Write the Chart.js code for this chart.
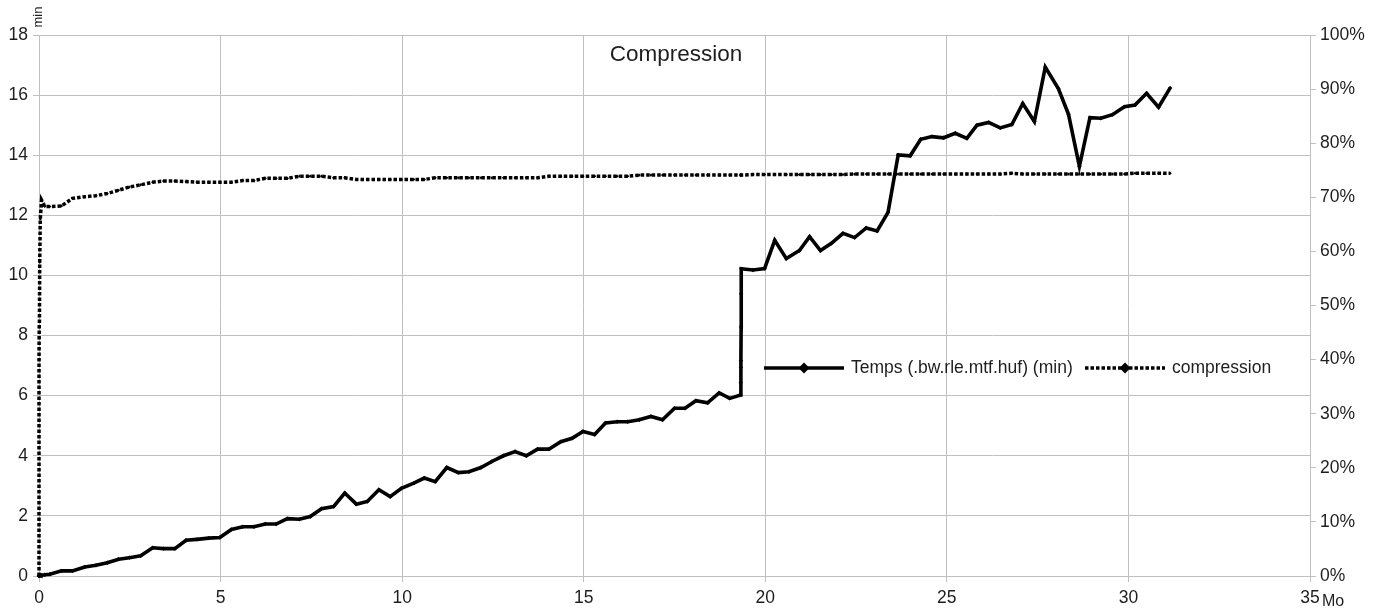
<!DOCTYPE html>
<html lang="fr">
<head>
<meta charset="utf-8">
<title>Compression</title>
<script src="https://cdn.jsdelivr.net/npm/chart.js@4/dist/chart.umd.min.js"></script>
<style>
  html, body { margin: 0; padding: 0; background: #fff; }
  canvas { display: block; }
</style>
</head>
<body>
<canvas id="graphe" width="1383" height="612"></canvas>
<script>
// Taille des fichiers compressés (Mo)
const tailleMo = [
  0, 0.0005, 0.001, 0.002, 0.004, 0.007, 0.012, 0.02, 0.035, 0.05, 0.07, 0.16,
  0.30, 0.62, 0.92, 1.26, 1.57, 1.88, 2.19, 2.49, 2.80, 3.13, 3.43, 3.74,
  4.05, 4.35, 4.67, 4.98, 5.30, 5.61, 5.92, 6.23, 6.53, 6.84, 7.17, 7.47,
  7.78, 8.11, 8.42, 8.74, 9.04, 9.36, 9.67, 9.98, 10.32, 10.61, 10.91, 11.23,
  11.55, 11.84, 12.17, 12.47, 12.79, 13.11, 13.42, 13.73, 14.04, 14.37, 14.68, 14.98,
  15.30, 15.60, 15.92, 16.21, 16.53, 16.85, 17.17, 17.50, 17.79, 18.09, 18.41, 18.73,
  19.02, 19.32, 19.325, 19.33, 19.33, 19.335, 19.335, 19.34, 19.66, 19.98, 20.26, 20.58,
  20.94, 21.22, 21.52, 21.82, 22.14, 22.46, 22.78, 23.08, 23.38, 23.66, 23.99, 24.28,
  24.59, 24.91, 25.23, 25.55, 25.83, 26.15, 26.47, 26.79, 27.09, 27.41, 27.71, 28.07,
  28.35, 28.65, 28.94, 29.24, 29.56, 29.89, 30.18, 30.50, 30.83, 31.15
];

// Temps (.bw.rle.mtf.huf) en minutes
const tempsMin = [
  0, 0, 0.01, 0.01, 0.01, 0.02, 0.02, 0.02, 0.03, 0.02, 0.03, 0.04,
  0.06, 0.17, 0.17, 0.30, 0.36, 0.44, 0.56, 0.61, 0.67, 0.94, 0.91, 0.91,
  1.19, 1.22, 1.26, 1.28, 1.55, 1.64, 1.64, 1.73, 1.73, 1.91, 1.89, 1.98,
  2.24, 2.31, 2.76, 2.39, 2.48, 2.87, 2.64, 2.92, 3.09, 3.26, 3.14, 3.61,
  3.44, 3.47, 3.61, 3.81, 4.00, 4.14, 4.00, 4.22, 4.22, 4.47, 4.58, 4.81,
  4.71, 5.09, 5.13, 5.13, 5.20, 5.31, 5.20, 5.58, 5.58, 5.83, 5.76, 6.09,
  5.91, 6.02, 6.44, 6.94, 7.16, 8.29, 9.39, 10.22, 10.18, 10.23, 11.17, 10.56,
  10.83, 11.29, 10.83, 11.07, 11.40, 11.26, 11.58, 11.48, 12.10, 14.01, 13.98, 14.53,
  14.62, 14.58, 14.73, 14.56, 15.00, 15.09, 14.91, 15.02, 15.72, 15.12, 16.93, 16.22,
  15.36, 13.63, 15.25, 15.23, 15.35, 15.61, 15.67, 16.06, 15.60, 16.24
];

// Taux de compression (%)
const compressionPct = [
  0, 38, 40, 42, 44, 46, 47, 58, 66, 67.5, 69.5, 68.3,
  68.3, 68.4, 69.8, 70.1, 70.3, 70.7, 71.3, 71.9, 72.3, 72.8, 73.0, 73.0,
  72.9, 72.8, 72.8, 72.8, 72.8, 73.1, 73.1, 73.5, 73.5, 73.5, 73.9, 73.9,
  73.9, 73.6, 73.6, 73.3, 73.3, 73.3, 73.3, 73.3, 73.3, 73.3, 73.6, 73.6,
  73.6, 73.6, 73.6, 73.6, 73.6, 73.6, 73.6, 73.6, 73.9, 73.9, 73.9, 73.9,
  73.9, 73.9, 73.9, 73.9, 74.1, 74.1, 74.1, 74.1, 74.1, 74.1, 74.1, 74.1,
  74.1, 74.1, 74.1, 74.1, 74.1, 74.1, 74.1, 74.1, 74.2, 74.2, 74.2, 74.2,
  74.2, 74.2, 74.2, 74.2, 74.2, 74.3, 74.3, 74.3, 74.3, 74.3, 74.3, 74.3,
  74.3, 74.3, 74.3, 74.3, 74.3, 74.3, 74.3, 74.45, 74.3, 74.3, 74.3, 74.3,
  74.3, 74.3, 74.3, 74.3, 74.3, 74.3, 74.45, 74.45, 74.45, 74.45
];

const ticksMin = [0, 2, 4, 6, 8, 10, 12, 14, 16, 18];
const ticksMo = [0, 5, 10, 15, 20, 25, 30, 35];

const titre = 'Compression';
const libelleTemps = 'Temps (.bw.rle.mtf.huf) (min)';
const libelleCompression = 'compression';

const police = '"Liberation Sans", Arial, sans-serif';
const couleurTexte = '#1e1e1e';
const couleurGrille = '#c0c0c0';
const taillePolice = 17.5;

const pointsTemps = tailleMo.map((x, i) => ({ x, y: tempsMin[i] }));
const pointsCompression = tailleMo.map((x, i) => ({ x, y: compressionPct[i] }));

// Titre, unités des axes et légende dessinés dans la zone du graphe
const decor = {
  id: 'decor',
  afterDraw(chart) {
    const ctx = chart.ctx;
    const zone = chart.chartArea;
    ctx.save();
    ctx.fillStyle = couleurTexte;

    // titre
    ctx.font = '22.5px ' + police;
    ctx.textAlign = 'center';
    ctx.textBaseline = 'middle';
    ctx.fillText(titre, 676, 55);

    // unité de l'axe des temps
    ctx.save();
    ctx.translate(zone.left - 0.5, 17);
    ctx.rotate(-Math.PI / 2);
    ctx.font = '13px ' + police;
    ctx.textAlign = 'center';
    ctx.textBaseline = 'middle';
    ctx.fillText('min', 0, 0);
    ctx.restore();

    // unité de l'axe des tailles
    ctx.font = '16px ' + police;
    ctx.textAlign = 'left';
    ctx.textBaseline = 'middle';
    ctx.fillText('Mo', zone.right + 12, 602);

    // légende
    const ds = chart.data.datasets;
    const yL = 368;
    const entrees = [
      { x: 764, ds: ds[0] },
      { x: 1085, ds: ds[1] }
    ];
    entrees.forEach(e => {
      ctx.save();
      ctx.strokeStyle = e.ds.borderColor;
      ctx.lineWidth = e.ds.borderWidth;
      ctx.setLineDash(e.ds.borderDash || []);
      ctx.lineCap = 'butt';
      ctx.beginPath();
      ctx.moveTo(e.x, yL);
      ctx.lineTo(e.x + 80, yL);
      ctx.stroke();
      ctx.setLineDash([]);
      ctx.fillStyle = '#000';
      ctx.beginPath();
      const cx = e.x + 40, r = 5.5;
      ctx.moveTo(cx, yL - r);
      ctx.lineTo(cx + r, yL);
      ctx.lineTo(cx, yL + r);
      ctx.lineTo(cx - r, yL);
      ctx.closePath();
      ctx.fill();
      ctx.restore();
      ctx.font = taillePolice + 'px ' + police;
      ctx.textAlign = 'left';
      ctx.textBaseline = 'middle';
      ctx.fillStyle = couleurTexte;
      ctx.fillText(e.ds.label, e.x + 87, yL);
    });
    ctx.restore();
  }
};

new Chart(document.getElementById('graphe'), {
  type: 'line',
  data: {
    datasets: [
      {
        label: libelleTemps,
        data: pointsTemps,
        yAxisID: 'y',
        borderColor: '#000',
        backgroundColor: '#000',
        borderWidth: 3.6,
        pointStyle: 'rectRot',
        pointRadius: 2.2,
        pointBorderWidth: 0,
        pointBackgroundColor: '#000',
        tension: 0,
        clip: false,
        order: 1
      },
      {
        label: libelleCompression,
        data: pointsCompression,
        yAxisID: 'y1',
        borderColor: '#000',
        backgroundColor: '#000',
        borderWidth: 3.5,
        borderDash: [3.5, 2],
        borderCapStyle: 'butt',
        pointStyle: 'rectRot',
        pointRadius: 1.6,
        pointBorderWidth: 0,
        pointBackgroundColor: '#000',
        tension: 0,
        clip: false,
        order: 2
      }
    ]
  },
  options: {
    responsive: false,
    animation: false,
    devicePixelRatio: 1,
    layout: { padding: { top: 35, left: 0, right: 0, bottom: 0 } },
    plugins: {
      legend: { display: false },
      title: { display: false },
      tooltip: { enabled: false }
    },
    scales: {
      x: {
        type: 'linear',
        min: 0,
        max: 35,
        afterBuildTicks: s => { s.ticks = ticksMo.map(v => ({ value: v })); },
        afterFit: s => { s.height = 36; },
        grid: { color: couleurGrille, tickLength: 6, tickColor: couleurGrille },
        border: { color: couleurGrille },
        ticks: {
          color: couleurTexte,
          font: { family: police, size: taillePolice },
          padding: 6,
          maxRotation: 0
        }
      },
      y: {
        type: 'linear',
        position: 'left',
        min: 0,
        max: 18,
        afterBuildTicks: s => { s.ticks = ticksMin.map(v => ({ value: v })); },
        afterFit: s => { s.width = 39; },
        grid: { color: couleurGrille, tickLength: 6, tickColor: couleurGrille },
        border: { color: couleurGrille },
        ticks: {
          color: couleurTexte,
          font: { family: police, size: taillePolice },
          padding: 5
        }
      },
      y1: {
        type: 'linear',
        position: 'right',
        min: 0,
        max: 100,
        afterFit: s => { s.width = 73; },
        grid: { drawOnChartArea: false, color: couleurGrille, tickLength: 6, tickColor: couleurGrille },
        border: { color: couleurGrille },
        ticks: {
          stepSize: 10,
          color: couleurTexte,
          font: { family: police, size: taillePolice },
          padding: 4,
          callback: v => v + '%'
        }
      }
    }
  },
  plugins: [decor]
});
</script>
</body>
</html>
